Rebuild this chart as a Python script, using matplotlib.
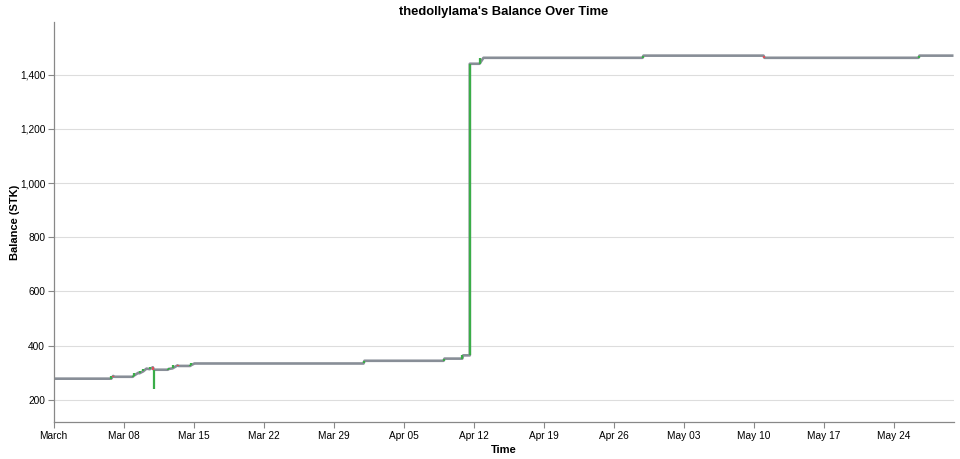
import numpy as np
import pandas as pd
import matplotlib
matplotlib.use("Agg")
import matplotlib.pyplot as plt

# balance history (days after Mar 01, balance in STK)
days = [0.0, 5.77, 5.97, 6.10, 7.93, 8.03, 8.50, 8.60, 8.97, 9.30, 9.63, 9.93, 10.03,
        11.43, 11.53, 11.90, 12.40, 12.50, 13.67, 13.77, 14.10,
        31.00, 31.10, 39.00, 39.10, 40.87, 40.97, 41.63, 41.63, 42.60, 43.00,
        58.90, 59.00, 71.00, 71.10, 86.50, 86.60, 90.00]
balance = [278, 278, 288, 285, 285, 289, 300, 298, 305, 315, 313, 320, 311,
           311, 314, 316, 327, 325, 325, 328, 334,
           334, 344, 344, 352, 352, 364, 364, 1440, 1440, 1462,
           1462, 1470, 1470, 1462, 1462, 1470, 1470]

# odd transaction around Mar 11
spike_day = 10.03
spike_low = 240
spike_high = 311

tick_days = [0, 7, 14, 21, 28, 35, 42, 49, 56, 63, 70, 77, 84]
tick_labels = ["March", "Mar 08", "Mar 15", "Mar 22", "Mar 29", "Apr 05", "Apr 12",
               "Apr 19", "Apr 26", "May 03", "May 10", "May 17", "May 24"]

start = pd.Timestamp("2025-03-01")
t = start + pd.to_timedelta(days, unit="D")
ticks = start + pd.to_timedelta(tick_days, unit="D")

plt.rcParams["font.family"] = ["Liberation Sans", "DejaVu Sans"]

fig = plt.figure(figsize=(9.6, 4.59), dpi=100)
ax = fig.add_axes([53.5 / 960, (459 - 422.3) / 459, 900 / 960, 400 / 459])

green = "#3aad48"
red = "#e0505a"

ax.plot(t, balance, color="#888e97", lw=1.9, zorder=2, solid_capstyle="butt")

# colored rule at the start of each change
for i in range(1, len(balance)):
    if balance[i] != balance[i - 1]:
        c = green if balance[i] > balance[i - 1] else red
        ax.vlines(t[i - 1], balance[i - 1], balance[i], color=c, lw=1.6, zorder=3)
ax.vlines(start + pd.Timedelta(days=spike_day), spike_low, spike_high, color=green, lw=1.6, zorder=3)

lo, hi = min(min(balance), spike_low), max(balance)
pad = 0.1 * (hi - lo)
ax.set_ylim(lo - pad, hi + pad)
ax.set_xlim(t[0], t[-1])

ax.set_yticks([200, 400, 600, 800, 1000, 1200, 1400])
ax.yaxis.set_major_formatter(matplotlib.ticker.FuncFormatter(lambda v, p: f"{int(v):,}"))
ax.set_xticks(ticks)
ax.set_xticklabels(tick_labels)

ax.grid(axis="y", color="#dddddd", lw=0.8)
ax.set_axisbelow(True)
for s in ["top", "right"]:
    ax.spines[s].set_visible(False)
for s in ["left", "bottom"]:
    ax.spines[s].set_color("#888888")
    ax.spines[s].set_linewidth(0.9)
ax.tick_params(colors="#888888", labelcolor="#000000", labelsize=7.3, length=4, width=0.8, pad=2)

ax.set_xlabel("Time", fontsize=8, fontweight="bold", labelpad=3)
ax.set_ylabel("Balance (STK)", fontsize=8, fontweight="bold", labelpad=0)
ax.set_title("thedollylama's Balance Over Time", fontsize=9.4, fontweight="bold", pad=5)

fig.savefig("out.png", dpi=100)
